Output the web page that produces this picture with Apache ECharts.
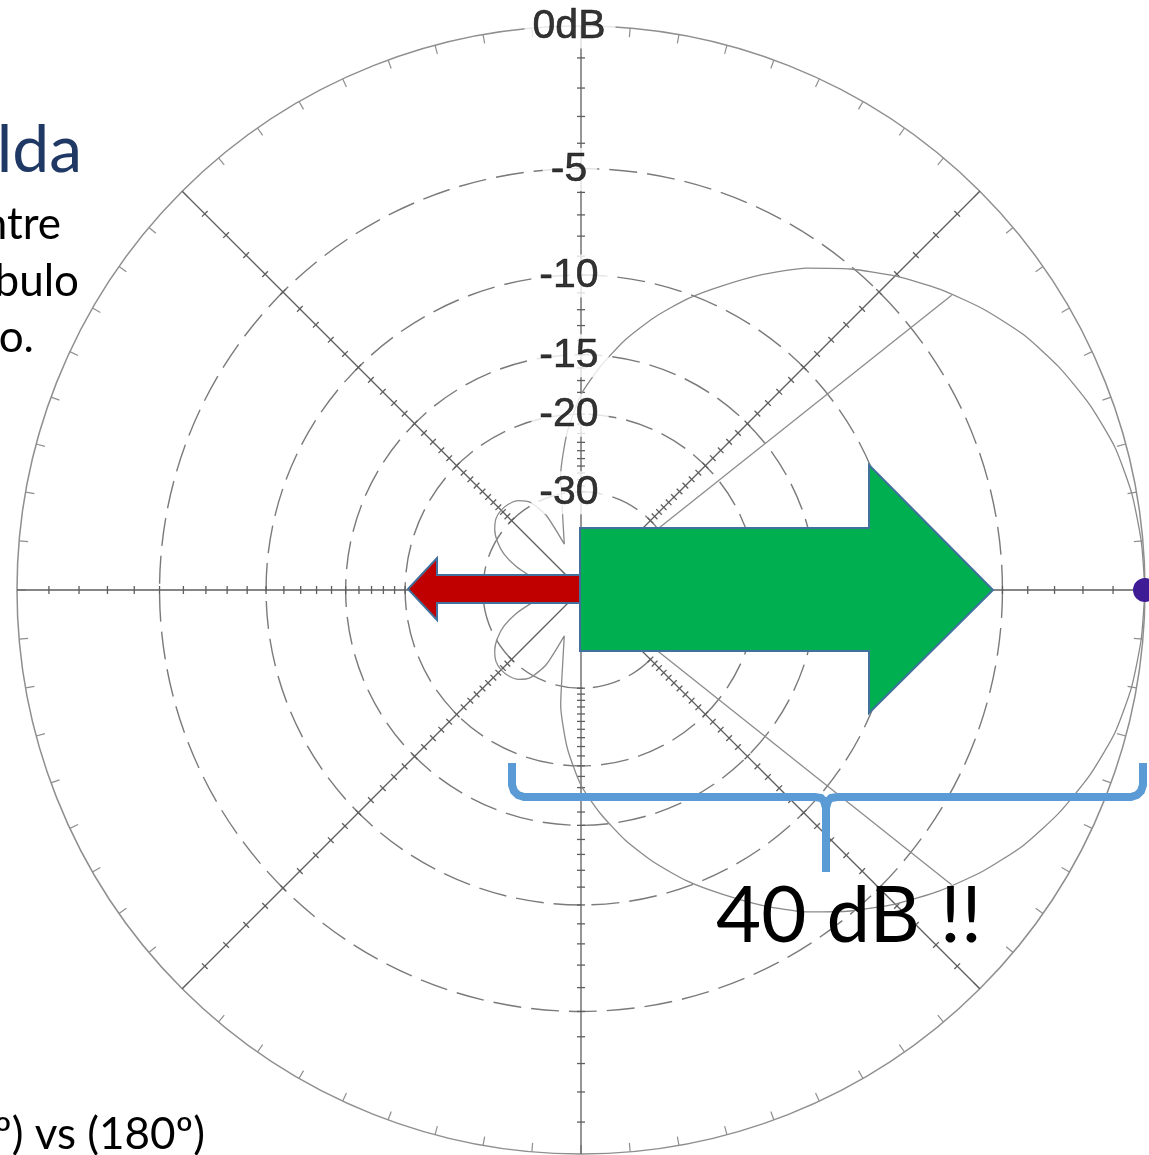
<!DOCTYPE html>
<html><head><meta charset="utf-8">
<script src="https://cdn.jsdelivr.net/npm/echarts@6/dist/echarts.min.js"></script>
<style>html,body{margin:0;padding:0;background:#fff;overflow:hidden}#c{width:1149px;height:1155px;}</style>
</head><body><div id="c"></div>
<script>
// ---- data ----
const patternAngles = [0,5,10,15,20,25,30,35,40,45,50,55,60,65,70,75,80,85,90,95,100,105,110,115,120,125,130,135,140,145,150,155,160,165,170,175,180,
  185,190,195,200,205,210,215,220,225,230,235,240,245,250,255,260,265,270,275,280,285,290,295,300,305,310,315,320,325,330,335,340,345,350,355,360];
const patternDb = [0,-0.05,-0.15,-0.35,-0.7,-1.15,-1.7,-2.4,-3.2,-4.1,-5.1,-6.2,-7.5,-8.9,-10.3,-11.9,-13.7,-15.8,-18.2,-21.8,-27,-36,-42,-33,-29.5,-28.2,-27.7,-27.6,-27.9,-28.8,-30.3,-32.5,-36,-41,-46,-44,-43,
  -44,-46,-41,-36,-32.5,-30.3,-28.8,-27.9,-27.6,-27.7,-28.2,-29.5,-33,-42,-36,-27,-21.8,-18.2,-15.8,-13.7,-11.9,-10.3,-8.9,-7.5,-6.2,-5.1,-4.1,-3.2,-2.4,-1.7,-1.15,-0.7,-0.35,-0.15,-0.05,0];
const ringDb = [-5,-10,-15,-20,-30];
const labelDb = [0,-5,-10,-15,-20,-30];
const ringLabels = ['0dB','-5','-10','-15','-20','-30'];
const spokeAngles = [0,45,90,135];
const tickDb = [-1,-2,-3,-4,-5,-6,-7,-8,-9,-10,-11,-12,-13,-14,-15,-16,-17,-18,-19,-20,-21,-22,-23,-24,-25,-26,-27,-28,-29,-30];
const beamAngles = [38.5, 321.5];
const beamDb = [-3, -3];

// ARRL log-periodic dB scale: radius factor 0.89 per 2 dB
function toR(db){ return Math.pow(0.89, -db/2); }

const chart = echarts.init(document.getElementById('c'), null, {renderer:'canvas'});
const GRID = '#5e5e5e';

const option = {
  animation:false,
  backgroundColor:'#fff',
  polar:{center:[581,590], radius:564},
  angleAxis:{type:'value', min:0, max:360, interval:5, startAngle:0, clockwise:false,
    axisLine:{show:true, lineStyle:{color:'#8f8f8f', width:1.5}},
    axisTick:{show:true, inside:true, length:9, lineStyle:{color:'#8f8f8f', width:1.2}},
    axisLabel:{show:false}, splitLine:{show:false}},
  radiusAxis:{type:'value', min:0, max:1, axisLine:{show:false}, axisTick:{show:false}, axisLabel:{show:false}, splitLine:{show:false}},
  series:[
    { type:'custom', coordinateSystem:'polar', silent:true, z:2,
      data: ringDb.map(d => [toR(d), 90]),
      renderItem:(params, api) => {
        const c = api.coord([0,0]);
        const p = api.coord([api.value(0), api.value(1)]);
        const r = Math.hypot(p[0]-c[0], p[1]-c[1]);
        return {type:'circle', shape:{cx:c[0], cy:c[1], r:r},
          style:{fill:'none', stroke:'#7a7a7a', lineWidth:1.4, lineDash:[28,10]}};
      }
    },
    { type:'custom', coordinateSystem:'polar', silent:true, z:3,
      data: spokeAngles.map(a => [1, a]),
      renderItem:(params, api) => {
        const a = api.value(1);
        const p1 = api.coord([1, a]), p2 = api.coord([1, a+180]);
        const c = api.coord([0,0]);
        const children = [{type:'line', shape:{x1:p1[0],y1:p1[1],x2:p2[0],y2:p2[1]}, style:{stroke:GRID, lineWidth:1.3}}];
        [a, a+180].forEach(ang => {
          tickDb.forEach(db => {
            const p = api.coord([toR(db), ang]);
            const dx = p[0]-c[0], dy = p[1]-c[1], L = Math.hypot(dx,dy);
            const nx = -dy/L*4, ny = dx/L*4;
            children.push({type:'line', shape:{x1:p[0]-nx,y1:p[1]-ny,x2:p[0]+nx,y2:p[1]+ny}, style:{stroke:GRID, lineWidth:1.3}});
          });
        });
        return {type:'group', children:children};
      }
    },
    { type:'custom', coordinateSystem:'polar', silent:true, z:3,
      data: beamAngles.map((a,i) => [toR(beamDb[i]), a]),
      renderItem:(params, api) => {
        const c = api.coord([0,0]);
        const p = api.coord([api.value(0), api.value(1)]);
        return {type:'line', shape:{x1:c[0],y1:c[1],x2:p[0],y2:p[1]}, style:{stroke:'#8c8c8c', lineWidth:1.3}};
      }
    },
    { type:'line', coordinateSystem:'polar', silent:true, z:4, smooth:0.2,
      symbol:'none', lineStyle:{color:'#8a8a8a', width:1.3},
      data: patternAngles.map((a,i) => [toR(patternDb[i]), a])
    },
    { type:'scatter', coordinateSystem:'polar', silent:true, z:10, symbolSize:1,
      itemStyle:{color:'rgba(0,0,0,0)'},
      data: labelDb.map((d,i) => ({value:[toR(d), 90], name:ringLabels[i]})),
      label:{show:true, position:'inside', formatter:p => p.name, fontSize:41,
        fontFamily:'Liberation Sans', color:'#000', textBorderColor:'#000', textBorderWidth:0.6,
        backgroundColor:'#fff', padding:[2,10,0,8], offset:[-11,1]}
    },
    { type:'scatter', coordinateSystem:'polar', silent:true, z:12, symbolSize:24,
      itemStyle:{color:'#3f1c96', opacity:1},
      data:[[toR(patternDb[0]), patternAngles[0]]]
    }
  ],
  graphic:[
    {type:'polygon', z:100, shape:{points:[[581,575],[437,575],[437,558],[408,589],[437,620],[437,603],[581,603]]},
      style:{fill:'#c00000', stroke:'#41719c', lineWidth:2}},
    {type:'polygon', z:101, shape:{points:[[580,528],[869,528],[869,465],[993,590],[869,713],[869,651],[580,651]]},
      style:{fill:'#00b050', stroke:'#41719c', lineWidth:2}},
    {type:'polyline', z:101, shape:{points:[[512,763],[512,785],[514,791],[518,795],[524,797],[815,797],[821,798],[824,801],[826,808],[826,872]]},
      style:{fill:null, stroke:'#5b9bd5', lineWidth:8}},
    {type:'polyline', z:101, shape:{points:[[826,808],[828,801],[831,798],[837,797],[1131,797],[1137,795],[1141,791],[1143,785],[1143,763]]},
      style:{fill:null, stroke:'#5b9bd5', lineWidth:8}},
    {type:'text', z:102, style:{text:'40 dB !!', x:716, y:917, fill:'#000', font:'78px Lato', align:'left', verticalAlign:'middle'}},
    {type:'text', z:102, style:{text:'lda', x:82, y:151, fill:'#1f3864', font:'66px Lato', align:'right', verticalAlign:'middle'}},
    {type:'text', z:102, style:{text:'ntre', x:61, y:225, fill:'#000', font:'44px Lato', align:'right', verticalAlign:'middle'}},
    {type:'text', z:102, style:{text:'bulo', x:79, y:282, fill:'#000', font:'44px Lato', align:'right', verticalAlign:'middle'}},
    {type:'text', z:102, style:{text:'o.', x:34, y:338, fill:'#000', font:'44px Lato', align:'right', verticalAlign:'middle'}},
    {type:'text', z:102, style:{text:'º) vs (180º)', x:205, y:1135, fill:'#000', font:'44px Lato', align:'right', verticalAlign:'middle'}}
  ]
};
chart.setOption(option);
</script>
</body></html>
